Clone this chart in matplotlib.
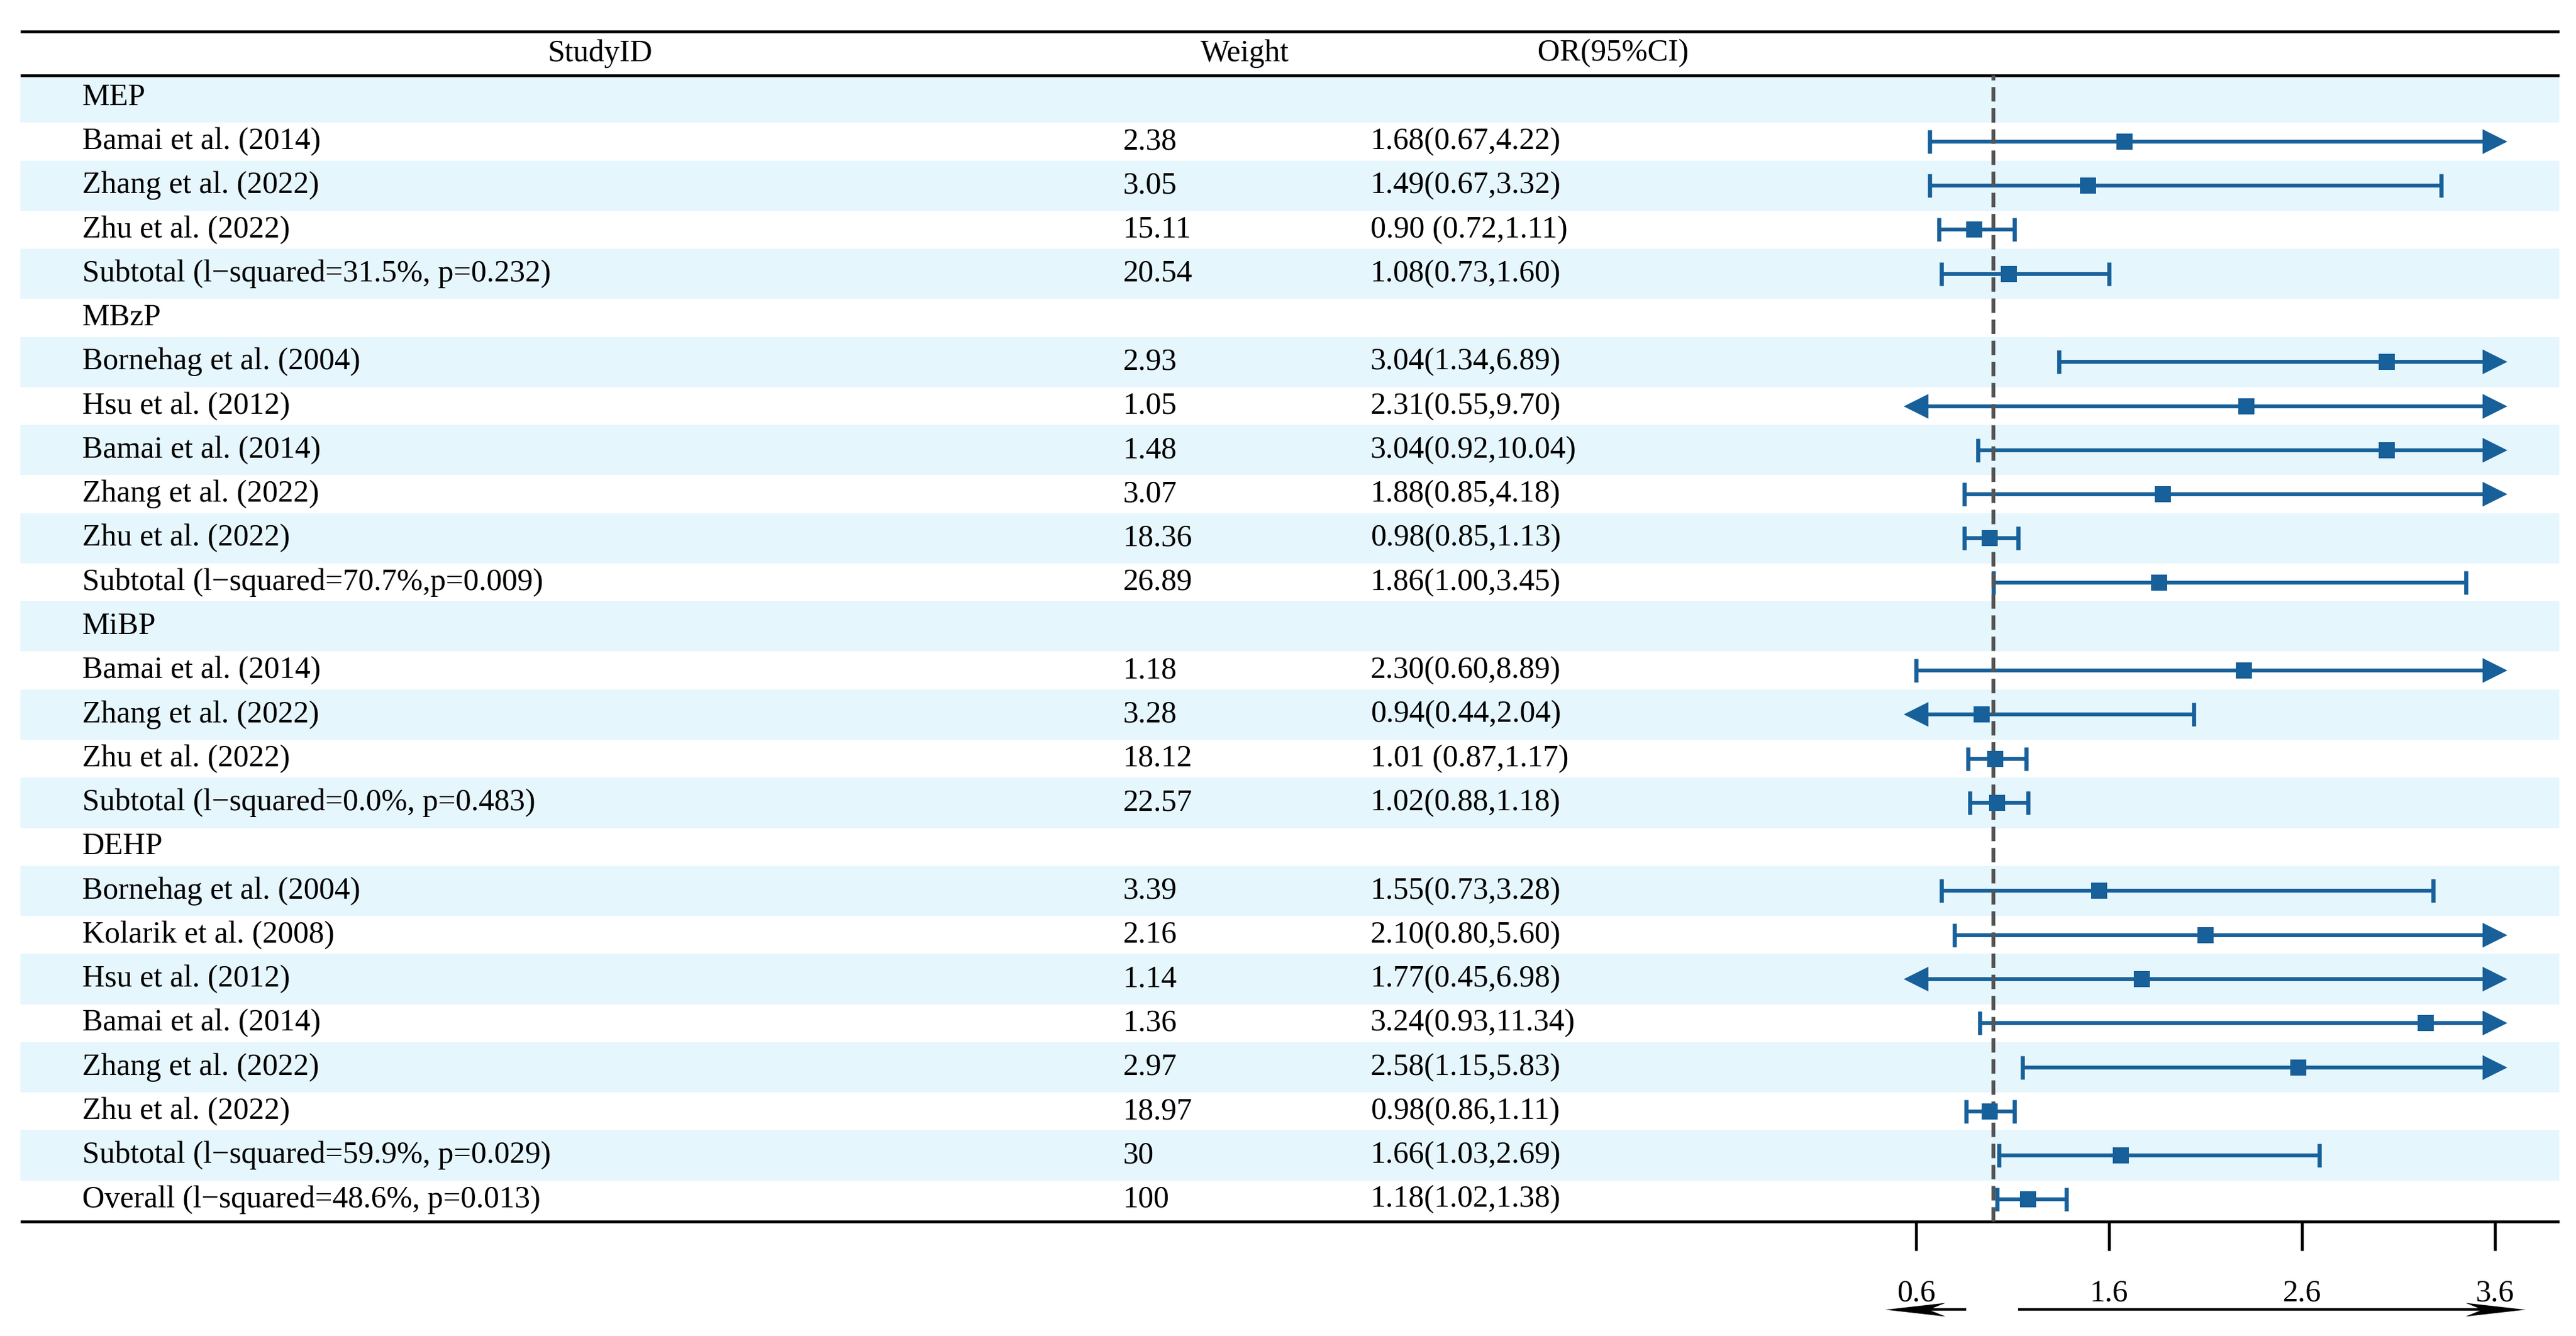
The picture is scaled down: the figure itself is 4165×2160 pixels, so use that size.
import numpy as np
import matplotlib.pyplot as plt
from matplotlib.patches import Rectangle
from matplotlib.path import Path
from matplotlib.transforms import blended_transform_factory

plt.rcParams['font.family'] = ['Liberation Serif', 'DejaVu Serif']
plt.rcParams['lines.scale_dashes'] = False

# ---- table data ----
labels = [
    'MEP',
    'Bamai et al. (2014)', 'Zhang et al. (2022)', 'Zhu et al. (2022)',
    'Subtotal (l\u2212squared=31.5%, p=0.232)',
    'MBzP',
    'Bornehag et al. (2004)', 'Hsu et al. (2012)', 'Bamai et al. (2014)',
    'Zhang et al. (2022)', 'Zhu et al. (2022)',
    'Subtotal (l\u2212squared=70.7%,p=0.009)',
    'MiBP',
    'Bamai et al. (2014)', 'Zhang et al. (2022)', 'Zhu et al. (2022)',
    'Subtotal (l\u2212squared=0.0%, p=0.483)',
    'DEHP',
    'Bornehag et al. (2004)', 'Kolarik et al. (2008)', 'Hsu et al. (2012)',
    'Bamai et al. (2014)', 'Zhang et al. (2022)', 'Zhu et al. (2022)',
    'Subtotal (l\u2212squared=59.9%, p=0.029)',
    'Overall (l\u2212squared=48.6%, p=0.013)',
]
weights = ['', '2.38', '3.05', '15.11', '20.54',
           '', '2.93', '1.05', '1.48', '3.07', '18.36', '26.89',
           '', '1.18', '3.28', '18.12', '22.57',
           '', '3.39', '2.16', '1.14', '1.36', '2.97', '18.97', '30',
           '100']
or_text = ['', '1.68(0.67,4.22)', '1.49(0.67,3.32)', '0.90 (0.72,1.11)',
           '1.08(0.73,1.60)',
           '', '3.04(1.34,6.89)', '2.31(0.55,9.70)', '3.04(0.92,10.04)',
           '1.88(0.85,4.18)', '0.98(0.85,1.13)', '1.86(1.00,3.45)',
           '', '2.30(0.60,8.89)', '0.94(0.44,2.04)', '1.01 (0.87,1.17)',
           '1.02(0.88,1.18)',
           '', '1.55(0.73,3.28)', '2.10(0.80,5.60)', '1.77(0.45,6.98)',
           '3.24(0.93,11.34)', '2.58(1.15,5.83)', '0.98(0.86,1.11)',
           '1.66(1.03,2.69)',
           '1.18(1.02,1.38)']
nan = np.nan
est = [nan, 1.68, 1.49, 0.90, 1.08,
       nan, 3.04, 2.31, 3.04, 1.88, 0.98, 1.86,
       nan, 2.30, 0.94, 1.01, 1.02,
       nan, 1.55, 2.10, 1.77, 3.24, 2.58, 0.98, 1.66,
       1.18]
lo = [nan, 0.67, 0.67, 0.72, 0.73,
      nan, 1.34, 0.55, 0.92, 0.85, 0.85, 1.00,
      nan, 0.60, 0.44, 0.87, 0.88,
      nan, 0.73, 0.80, 0.45, 0.93, 1.15, 0.86, 1.03,
      1.02]
hi = [nan, 4.22, 3.32, 1.11, 1.60,
      nan, 6.89, 9.70, 10.04, 4.18, 1.13, 3.45,
      nan, 8.89, 2.04, 1.17, 1.18,
      nan, 3.28, 5.60, 6.98, 11.34, 5.83, 1.11, 2.69,
      1.38]
headers = ['StudyID', 'Weight', 'OR(95%CI)']
xticks = [0.6, 1.6, 2.6, 3.6]
clip_lo, clip_hi = 0.6, 3.6

# ---- style ----
W, H = 4165, 2160
DPI = 300
blue = '#17609a'
band = '#e6f6fd'
fs = 12.0
n = len(labels)
top_px, bot_px = 122, 1975          # header rule / bottom rule
x_left, x_right = 33, 4138          # extent of rules and bands
rows = np.arange(n)

fig = plt.figure(figsize=(W / DPI, H / DPI), dpi=DPI)
fig.patch.set_facecolor('white')

# table axes: x in pixels, y in row units
tab = fig.add_axes([0, 1 - bot_px / H, 1, (bot_px - top_px) / H])
tab.set_xlim(0, W)
tab.set_ylim(n - 0.5, -0.5)
tab.axis('off')

for i in rows[::2]:
    tab.add_patch(Rectangle((x_left, i - 0.57), x_right - x_left, 1.14,
                            facecolor=band, edgecolor='none', zorder=0))

for yl in (-1.5, -0.5, n - 0.5):
    tab.plot([x_left, x_right], [yl, yl], color='black', lw=1.1,
             clip_on=False, solid_capstyle='butt', zorder=3)

for x, h in zip([970, 2013, 2608], headers):
    tab.text(x, -1.0, h, ha='center', va='center', fontsize=fs,
             clip_on=False)

for i in rows:
    tab.text(133, i, labels[i], ha='left', va='center', fontsize=fs)
    tab.text(1816, i, weights[i], ha='left', va='center', fontsize=fs)
    tab.text(2216, i, or_text[i], ha='left', va='center', fontsize=fs)

# forest axes: 0.6 sits at 3098 px, 312 px per unit
px0, ppu = 3098, 312
xmin, xmax = 0.4, 3.9
left_px = px0 + (xmin - 0.6) * ppu
fa = fig.add_axes([left_px / W, 1 - bot_px / H, (xmax - xmin) * ppu / W,
                   (bot_px - top_px) / H])
fa.set_xlim(xmin, xmax)
fa.set_ylim(n - 0.5, -0.5)
fa.patch.set_alpha(0)
for s in fa.spines.values():
    s.set_visible(False)
fa.set_yticks([])
fa.set_xticks(xticks)
fa.set_xticklabels([f'{t:.1f}' for t in xticks], fontsize=12)
fa.tick_params(axis='x', direction='out', length=11.3, width=1.1, pad=11)

for i in rows:
    if np.isnan(est[i]):
        continue
    a = max(lo[i], clip_lo)
    b = min(hi[i], clip_hi)
    fa.plot([a, b], [i, i], color=blue, lw=1.5, solid_capstyle='butt',
            zorder=2)
    if lo[i] < clip_lo:
        fa.plot(clip_lo, i, marker='<', ms=9.4, color=blue, mew=0, zorder=2)
    else:
        fa.plot(a, i, marker='|', ms=9.2, mew=1.6, color=blue, zorder=2)
    if hi[i] > clip_hi:
        fa.plot(clip_hi, i, marker='>', ms=9.4, color=blue, mew=0, zorder=2)
    else:
        fa.plot(b, i, marker='|', ms=9.2, mew=1.6, color=blue, zorder=2)
    fa.plot(est[i], i, marker='s', ms=6.4, color=blue, mew=0, zorder=4)

fa.axvline(1.0, color='#555555', lw=1.5, dashes=(5.6, 2.6), zorder=3)

# direction arrows under the axis
stealth_r = Path([(0, 0), (-97, 11), (-70, 0), (-97, -11), (0, 0)],
                 [Path.MOVETO, Path.LINETO, Path.LINETO, Path.LINETO,
                  Path.CLOSEPOLY])
stealth_l = Path([(0, 0), (97, 11), (70, 0), (97, -11), (0, 0)],
                 [Path.MOVETO, Path.LINETO, Path.LINETO, Path.LINETO,
                  Path.CLOSEPOLY])
btr = blended_transform_factory(fa.transData, fa.transAxes)
ya = (bot_px - 2117) / (bot_px - top_px)
fa.plot([0.853, 0.56], [ya, ya], color='black', lw=1.0, transform=btr,
        clip_on=False)
fa.plot(0.44, ya, marker=stealth_l, ms=46.6, color='black', mew=0,
        transform=btr, clip_on=False)
fa.plot([1.135, 3.64], [ya, ya], color='black', lw=1.0, transform=btr,
        clip_on=False)
fa.plot(3.757, ya, marker=stealth_r, ms=46.6, color='black', mew=0,
        transform=btr, clip_on=False)

fig.savefig('out.png', dpi=DPI)
